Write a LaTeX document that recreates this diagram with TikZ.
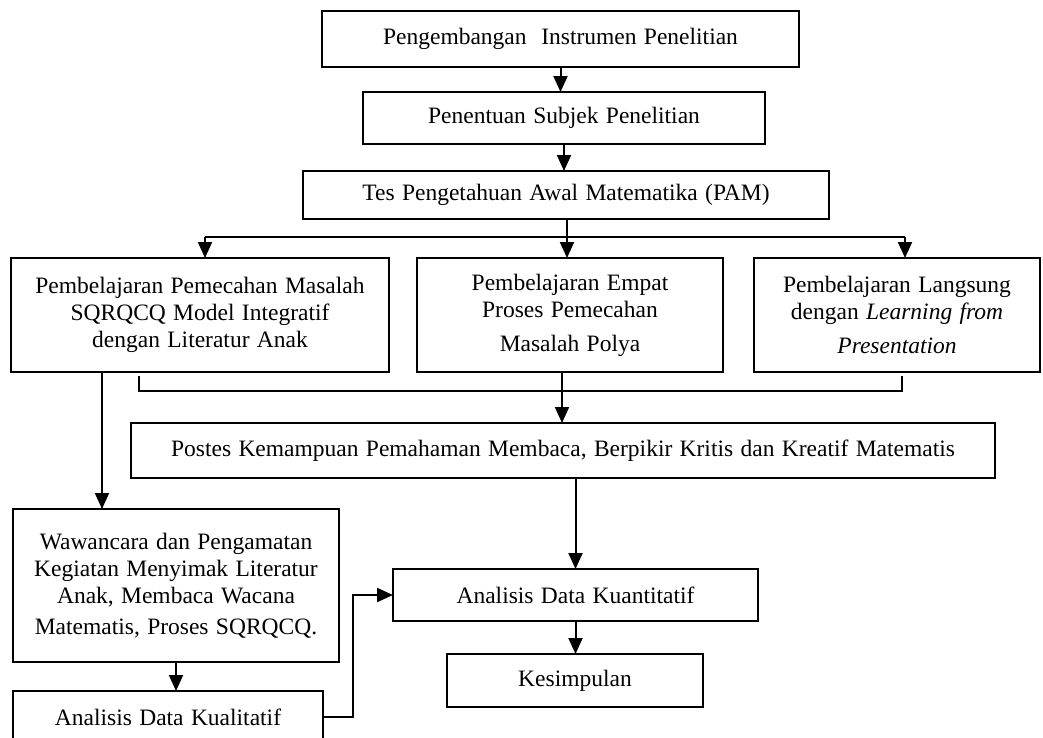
\documentclass[tikz,border=0pt]{standalone}
\usepackage{fontspec}
\setmainfont{Liberation Serif}[WordSpace=1.25]
\usetikzlibrary{arrows.meta}
\begin{document}
\begin{tikzpicture}[x=1pt,y=-1pt,
  box/.style={draw,line width=2pt,inner sep=0pt,outer sep=0pt,align=center,
    font=\fontsize{23.5}{27}\selectfont},
  link/.style={line width=2pt},
  arr/.style={line width=2pt,-{Triangle[length=16pt,width=14pt]}}]
\useasboundingbox (0,0) rectangle (1043,737);
\clip (0,0) rectangle (1043,737);
\node[box,minimum width=477pt,minimum height=56pt] (b1) at (560.5,39) {Pengembangan\ \ Instrumen Penelitian};
\node[box,minimum width=402pt,minimum height=52pt] (b2) at (564,118) {Penentuan Subjek Penelitian};
\node[box,minimum width=526pt,minimum height=48pt] (b3) at (566,195) {Tes Pengetahuan Awal Matematika (PAM)};
\node[box,minimum width=378pt,minimum height=114pt] (b4) at (200,315) {Pembelajaran Pemecahan Masalah\\SQRQCQ Model Integratif\\dengan Literatur Anak};
\node[box,minimum width=306pt,minimum height=114pt] (b5) at (570,315) {Pembelajaran Empat\\Proses Pemecahan\\[7pt]Masalah Polya};
\node[box,minimum width=286pt,minimum height=114pt] (b6) at (897,315) {Pembelajaran Langsung\\dengan \textit{Learning from}\\[7pt]\textit{Presentation}};
\node[box,minimum width=864pt,minimum height=55pt] (b7) at (563,450.5) {Postes Kemampuan Pemahaman Membaca, Berpikir Kritis dan Kreatif Matematis};
\node[box,minimum width=326pt,minimum height=153pt] (b8) at (176,585.5) {Wawancara dan Pengamatan\\Kegiatan Menyimak Literatur\\Anak, Membaca Wacana\\[4pt]Matematis, Proses SQRQCQ.};
\node[box,minimum width=365pt,minimum height=52pt] (b9) at (575.5,595) {Analisis Data Kuantitatif};
\node[box,minimum width=256pt,minimum height=53pt] (b10) at (575,680.5) {Kesimpulan};
\node[box,minimum width=310pt,minimum height=52pt] (b11) at (168,717) {Analisis Data Kualitatif};
% top chain
\draw[arr] (b1.south) -- (b1.south |- b2.north);
\draw[arr] (b2.south) -- (b2.south |- b3.north);
% split
\coordinate (sM) at (567,237);
\coordinate (sL) at (205,237);
\coordinate (sR) at (905,237);
\draw[link] (sM |- b3.south) -- (sM);
\draw[link] (sL) -- (sR);
\draw[arr] (sL) -- (sL |- b4.north);
\draw[arr] (sM) -- (sM |- b5.north);
\draw[arr] (sR) -- (sR |- b6.north);
% bracket
\coordinate (bl1) at (139,376);
\coordinate (bl2) at (139,391);
\coordinate (br2) at (902,391);
\coordinate (br1) at (902,376);
\coordinate (m) at (562,391);
\draw[link] (bl1) -- (bl2) -- (br2) -- (br1);
\draw[link] (m |- b5.south) -- (m);
\draw[arr] (m) -- (m |- b7.north);
% left branch
\coordinate (lv) at (102,0);
\draw[arr] (lv |- b4.south) -- (lv |- b8.north);
\draw[arr] (b8.south) -- (b8.south |- b11.north);
% right column
\draw[arr] (b9.north |- b7.south) -- (b9.north);
\draw[arr] (b9.south) -- (b9.south |- b10.north);
% qualitative to quantitative
\coordinate (k) at (353,0);
\draw[arr] (b11.east) -- (b11.east -| k) -- (k |- b9.west) -- (b9.west);
\end{tikzpicture}
\end{document}
